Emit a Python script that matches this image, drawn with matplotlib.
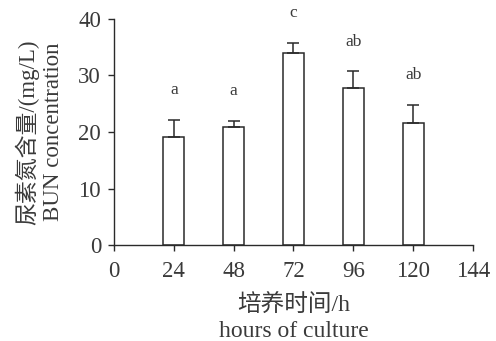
import numpy as np
import matplotlib
matplotlib.use("Agg")
import matplotlib.pyplot as plt

plt.rcParams['font.family'] = ['Liberation Serif', 'Noto Sans CJK SC', 'DejaVu Sans']

# data
hours = [24, 48, 72, 96, 120]
bun_mean = [19.1, 20.9, 33.9, 27.7, 21.6]
bun_sd = [3.1, 1.1, 1.9, 3.1, 3.2]
sig_letters = ['a', 'a', 'c', 'ab', 'ab']
x_ticks = [0, 24, 48, 72, 96, 120, 144]
y_ticks = [0, 10, 20, 30, 40]

text_c = '#3a3a3a'
line_c = '#2a2a2a'

fig = plt.figure(figsize=(4.96, 3.41), dpi=100)
ax = fig.add_axes([0.2298, 0.2815, 0.7238, 0.6628])

ax.bar(hours, bun_mean, width=8.5, color='white', edgecolor=line_c, linewidth=1.1, zorder=2)
ax.errorbar(hours, bun_mean, yerr=[np.zeros(len(bun_sd)), bun_sd], fmt='none',
            ecolor=line_c, elinewidth=1.1, capsize=4.3, capthick=1.1, zorder=3)

for x, m, s, lab in zip(hours, bun_mean, bun_sd, sig_letters):
    ax.text(x, m + s + 5.2, lab, ha='center', va='center', fontsize=12.5,
            color=text_c, clip_on=False)

ax.set_xlim(0, 144)
ax.set_ylim(0, 40)
ax.set_xticks(x_ticks)
ax.set_yticks(y_ticks)
ax.tick_params(direction='out', length=4.3, width=1.0, color=line_c,
               labelsize=16.5, labelcolor=text_c)
ax.tick_params(axis='x', pad=7)
ax.tick_params(axis='y', pad=5)
ax.spines['top'].set_visible(False)
ax.spines['right'].set_visible(False)
for sp in ['left', 'bottom']:
    ax.spines[sp].set_color(line_c)
    ax.spines[sp].set_linewidth(1.0)

ax.set_xlabel('培养时间/h\nhours of culture', fontsize=17, color=text_c,
              linespacing=1.28, labelpad=9)
ax.set_ylabel('尿素氮含量/(mg/L)\nBUN concentration', fontsize=16.5, color=text_c,
              linespacing=1.25, labelpad=10)

fig.savefig('out.png', dpi=100)
